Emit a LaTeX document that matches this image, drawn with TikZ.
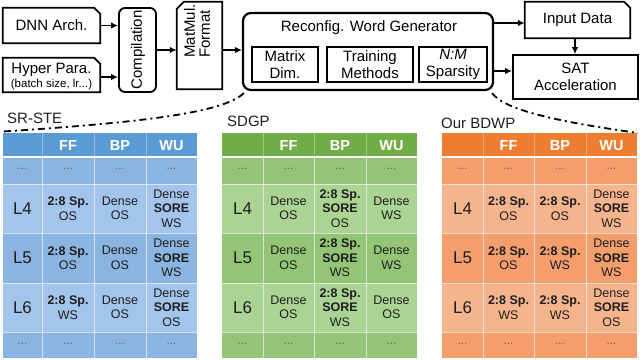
\documentclass[tikz,border=0pt]{standalone}
\usepackage{fontspec}
\setmainfont{Liberation Sans}
\usetikzlibrary{arrows.meta}
\definecolor{bhead}{RGB}{91,155,213}
\definecolor{bdark}{RGB}{140,180,225}
\definecolor{blight}{RGB}{163,196,235}
\definecolor{ghead}{RGB}{112,173,71}
\definecolor{gdark}{RGB}{148,197,118}
\definecolor{glight}{RGB}{171,211,147}
\definecolor{ohead}{RGB}{237,125,49}
\definecolor{odark}{RGB}{243,158,108}
\definecolor{olight}{RGB}{246,180,141}
\definecolor{txt}{RGB}{30,30,30}
\newcommand{\mytab}[9]{%
 % #1 prefix, #2..#6 column edges, #7 head, #8 dark, #9 light
 \fill[#7] (#2,133) rectangle (#6,157);
 \fill[#8] (#2,157) rectangle (#6,184);
 \fill[#9] (#2,184) rectangle (#6,233);
 \fill[#8] (#2,233) rectangle (#6,283);
 \fill[#9] (#2,283) rectangle (#6,332);
 \fill[#8] (#2,332) rectangle (#6,358);
 \foreach \xx in {#3,#4,#5}{
   \draw[white, opacity=0.35, line width=0.8pt] (\xx,133) -- (\xx,157);
   \draw[white, opacity=0.6, line width=0.8pt] (\xx,157) -- (\xx,358);}
 \foreach \yy in {184,233,283,332}{
   \draw[white, opacity=0.6, line width=0.8pt] (#2,\yy) -- (#6,\yy);}
 \draw[white, line width=1.8pt] (#2,157) -- (#6,157);
}
\begin{document}
\begin{tikzpicture}[x=1pt,y=-1pt,
  box/.style={draw, line width=1.8pt, inner sep=0pt, align=center, font=\fontsize{15}{16.5}\selectfont},
  plain/.style={draw=none, inner sep=0pt, align=center, font=\fontsize{15}{16.5}\selectfont},
  arr/.style={-{Latex[length=7pt,width=6.5pt]}, line width=1.8pt},
  chamf/.style={line width=1.8pt, line join=miter},
  ddot/.style={line width=1.8pt, dash pattern=on 7pt off 4pt on 2pt off 4pt},
  hd/.style={inner sep=0pt, text=white, font=\fontsize{14.5}{16}\selectfont\bfseries},
  lab/.style={inner sep=0pt, text=txt, font=\fontsize{17}{19}\selectfont},
  cel/.style={inner sep=0pt, text=txt, align=center, font=\fontsize{12.5}{14.5}\selectfont},
  dts/.style={inner sep=0pt, text=black!60, font=\fontsize{12}{14}\selectfont},
  ttl/.style={inner sep=0pt, anchor=base west, text=txt, font=\fontsize{15}{17}\selectfont}]
\useasboundingbox (0,0) rectangle (640,359);

% ---------- top flow ----------
\node[plain, minimum width=97pt, minimum height=35pt] (dnn) at (51.5,25.5) {DNN Arch.};
\draw[chamf] (dnn.south west) -- (dnn.north west) -- ([xshift=-6pt]dnn.north east) -- ([yshift=-6pt]dnn.north east) -- (dnn.south east) -- cycle;

\node[plain, minimum width=97pt, minimum height=34pt] (hyp) at (51.5,75) {};
\node[inner sep=0pt, font=\fontsize{15}{16.5}\selectfont] (hyp1) at (51.5,69.5) {Hyper Para.};
\node[inner sep=0pt, font=\fontsize{11.5}{13}\selectfont] (hyp2) at (51.5,84.5) {(batch size, lr...)};
\draw[chamf] (hyp.south west) -- (hyp.north west) -- ([xshift=-6pt]hyp.north east) -- ([yshift=-6pt]hyp.north east) -- (hyp.south east) -- cycle;

\node[box, rounded corners=6pt, minimum width=37pt, minimum height=84pt] (comp) at (137.5,50) {};
\node[inner sep=0pt, rotate=90, font=\fontsize{15}{16.5}\selectfont] (comptxt) at (138,50) {Compilation};

\node[plain, minimum width=45pt, minimum height=87pt] (mm) at (199.5,45.5) {};
\draw[chamf] (mm.south west) -- ([yshift=-7pt]mm.north west) -- ([xshift=7pt]mm.north west) -- (mm.north east) -- (mm.south east) -- cycle;
\node[inner sep=0pt, rotate=90, align=left, font=\fontsize{15}{15}\selectfont] (mmtxt) at (197,31) {MatMul.\\Format};

\node[box, line width=2.2pt, rounded corners=8pt, minimum width=250pt, minimum height=77pt] (rw) at (368,51.5) {};
\node[inner sep=0pt, font=\fontsize{15}{16.5}\selectfont] (rwt) at (369,27.5) {Reconfig. Word Generator};
\node[box, minimum width=66pt, minimum height=35pt] (md) at (285,64.5) {Matrix\\Dim.};
\node[box, minimum width=86pt, minimum height=35pt] (tm) at (370,64.5) {Training\\Methods};
\node[box, minimum width=68pt, minimum height=35pt] (nm) at (453,64.5) {\textit{N:M}\\Sparsity};

\node[plain, minimum width=105pt, minimum height=36pt] (inp) at (577.5,20) {Input Data};
\draw[chamf] (inp.south west) -- (inp.north west) -- ([xshift=-6pt]inp.north east) -- ([yshift=-6pt]inp.north east) -- (inp.south east) -- cycle;

\node[box, minimum width=125pt, minimum height=44pt] (sat) at (575.5,77) {SAT\\Acceleration};

\draw[arr] (dnn.east) -- (dnn.east -| comp.west);
\coordinate (hin) at ([yshift=-2pt]hyp.east);
\draw[arr] (hin) -- (hin -| comp.west);
\draw[arr] (comp.east) -- (comp.east -| mm.west);
\coordinate (mout) at (comp.east -| mm.east);
\draw[arr] (mout) -- (mout -| rw.west);
\coordinate (inpin) at ([yshift=-3pt]inp.west);
\draw[arr] (inpin -| rw.east) -- (inpin);
\coordinate (inpout) at ([xshift=-2.5pt]inp.south);
\draw[arr] (inpout) -- (inpout |- sat.north);
\coordinate (satin) at ([yshift=6pt]sat.west);
\draw[arr] (satin -| rw.east) -- (satin);

% ---------- tables ----------
\mytab{b}{3}{42}{94}{146}{197}{bhead}{bdark}{blight}
\mytab{g}{222}{263}{314}{366}{417}{ghead}{gdark}{glight}
\mytab{o}{442}{483}{534}{586}{637}{ohead}{odark}{olight}

\node[ttl] (t1) at (7,123) {SR-STE};
\node[ttl] (t2) at (227,126.5) {SDGP};
\node[ttl] (t3) at (441,128) {Our BDWP};

\coordinate (tl) at (3,131.5);
\coordinate (tr) at (638,133);
\draw[ddot] ([xshift=2pt,yshift=-2pt]rw.south west) .. controls (224,112) and (150,122) .. (tl);
\draw[ddot] ([xshift=-2pt,yshift=-2pt]rw.south east) .. controls (503,108) and (545,120) .. (tr);

% blue
\foreach \cx/\t [count=\i] in {68/FF,120/BP,171.5/WU}{\node[hd] (bh\i) at (\cx,145.5) {\t};}
\foreach \cx [count=\i] in {22.5,68,120,171.5}{\node[dts] (bd\i) at (\cx,169) {...}; \node[dts] (be\i) at (\cx,343.5) {...};}
\node[lab] (bl4) at (22.5,208.5) {L4};
\node[lab] (bl5) at (22.5,258) {L5};
\node[lab] (bl6) at (22.5,307.5) {L6};
\node[cel] (b42) at (68,208.5) {\textbf{2:8 Sp.}\\OS};
\node[cel] (b43) at (120,208.5) {Dense\\OS};
\node[cel] (b44) at (171.5,208.5) {Dense\\\textbf{SORE}\\WS};
\node[cel] (b52) at (68,258) {\textbf{2:8 Sp.}\\OS};
\node[cel] (b53) at (120,258) {Dense\\OS};
\node[cel] (b54) at (171.5,258) {Dense\\\textbf{SORE}\\WS};
\node[cel] (b62) at (68,307.5) {\textbf{2:8 Sp.}\\WS};
\node[cel] (b63) at (120,307.5) {Dense\\OS};
\node[cel] (b64) at (171.5,307.5) {Dense\\\textbf{SORE}\\OS};

% green
\foreach \cx/\t [count=\i] in {288.5/FF,340/BP,391.5/WU}{\node[hd] (gh\i) at (\cx,145.5) {\t};}
\foreach \cx [count=\i] in {242.5,288.5,340,391.5}{\node[dts] (gd\i) at (\cx,169) {...}; \node[dts] (ge\i) at (\cx,343.5) {...};}
\node[lab] (gl4) at (242.5,208.5) {L4};
\node[lab] (gl5) at (242.5,258) {L5};
\node[lab] (gl6) at (242.5,307.5) {L6};
\node[cel] (g42) at (288.5,208.5) {Dense\\OS};
\node[cel] (g43) at (340,208.5) {\textbf{2:8 Sp.}\\\textbf{SORE}\\OS};
\node[cel] (g44) at (391.5,208.5) {Dense\\WS};
\node[cel] (g52) at (288.5,258) {Dense\\OS};
\node[cel] (g53) at (340,258) {\textbf{2:8 Sp.}\\\textbf{SORE}\\WS};
\node[cel] (g54) at (391.5,258) {Dense\\WS};
\node[cel] (g62) at (288.5,307.5) {Dense\\OS};
\node[cel] (g63) at (340,307.5) {\textbf{2:8 Sp.}\\\textbf{SORE}\\WS};
\node[cel] (g64) at (391.5,307.5) {Dense\\OS};

% orange
\foreach \cx/\t [count=\i] in {508.5/FF,560/BP,611.5/WU}{\node[hd] (oh\i) at (\cx,145.5) {\t};}
\foreach \cx [count=\i] in {462.5,508.5,560,611.5}{\node[dts] (od\i) at (\cx,169) {...}; \node[dts] (oe\i) at (\cx,343.5) {...};}
\node[lab] (ol4) at (462.5,208.5) {L4};
\node[lab] (ol5) at (462.5,258) {L5};
\node[lab] (ol6) at (462.5,307.5) {L6};
\node[cel] (o42) at (508.5,208.5) {\textbf{2:8 Sp.}\\OS};
\node[cel] (o43) at (560,208.5) {\textbf{2:8 Sp.}\\OS};
\node[cel] (o44) at (611.5,208.5) {Dense\\\textbf{SORE}\\WS};
\node[cel] (o52) at (508.5,258) {\textbf{2:8 Sp.}\\OS};
\node[cel] (o53) at (560,258) {\textbf{2:8 Sp.}\\WS};
\node[cel] (o54) at (611.5,258) {Dense\\\textbf{SORE}\\WS};
\node[cel] (o62) at (508.5,307.5) {\textbf{2:8 Sp.}\\WS};
\node[cel] (o63) at (560,307.5) {\textbf{2:8 Sp.}\\WS};
\node[cel] (o64) at (611.5,307.5) {Dense\\\textbf{SORE}\\OS};
\end{tikzpicture}
\end{document}
